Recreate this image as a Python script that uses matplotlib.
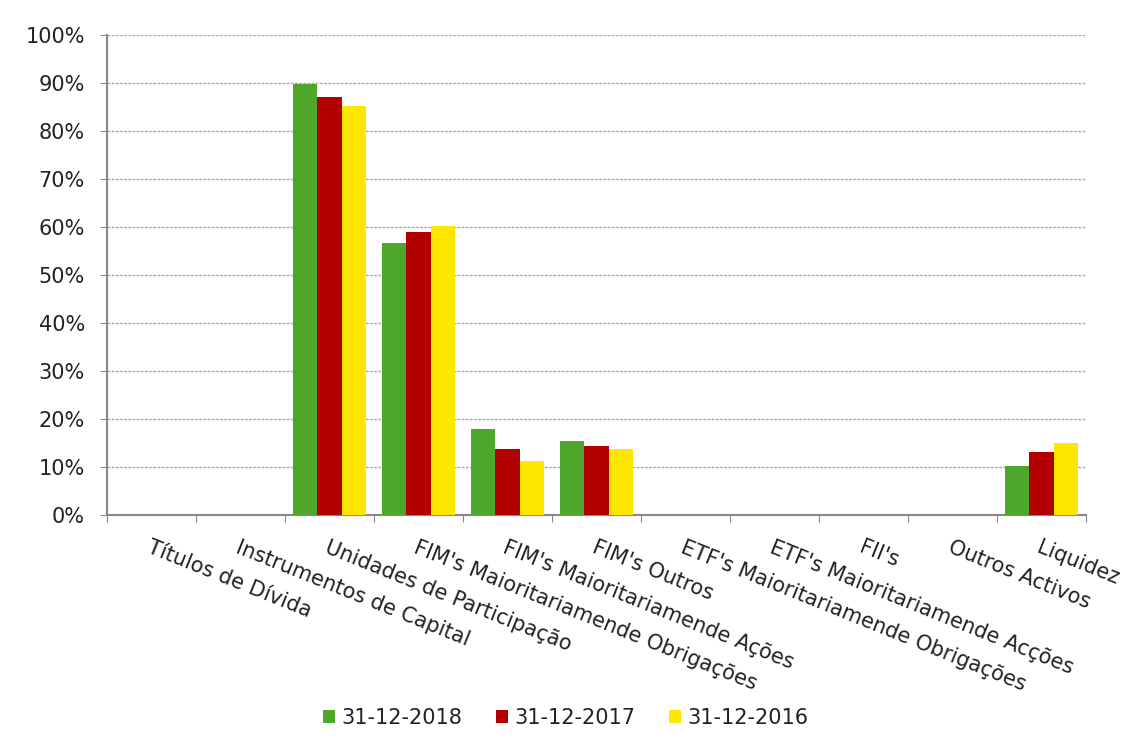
import numpy as np
import matplotlib.pyplot as plt
from matplotlib.ticker import FuncFormatter

categories = [
    "Títulos de Dívida",
    "Instrumentos de Capital",
    "Unidades de Participação",
    "FIM's Maioritariamende Obrigações",
    "FIM's Maioritariamende Ações",
    "FIM's Outros",
    "ETF's Maioritariamende Obrigações",
    "ETF's Maioritariamende Acções",
    "FII's",
    "Outros Activos",
    "Liquidez",
]
series_labels = ["31-12-2018", "31-12-2017", "31-12-2016"]
vals_2018 = [0, 0, 89.8, 56.6, 17.9, 15.4, 0, 0, 0, 0, 10.3]
vals_2017 = [0, 0, 87.0, 59.0, 13.7, 14.4, 0, 0, 0, 0, 13.1]
vals_2016 = [0, 0, 85.3, 60.2, 11.3, 13.7, 0, 0, 0, 0, 14.9]
colors = ["#4EA72A", "#B20000", "#FFE600"]

fig = plt.figure(figsize=(11.31, 7.42), dpi=100)
ax = fig.add_axes([107 / 1131, 1 - 515 / 742, (1086 - 107) / 1131, (515 - 35) / 742])

x = np.arange(len(categories))
w = 0.27
for i, (vals, lab, c) in enumerate(zip([vals_2018, vals_2017, vals_2016], series_labels, colors)):
    ax.bar(x + (i - 1) * w, vals, w, color=c, label=lab, zorder=3)

ax.set_xlim(-0.5, len(categories) - 0.5)
ax.set_ylim(0, 100)
ax.set_yticks(np.arange(0, 101, 10))
ax.yaxis.set_major_formatter(FuncFormatter(lambda v, p: f"{v:.0f}%"))
ax.yaxis.grid(True, linestyle=(0, (2, 1)), color="#aaaaaa", linewidth=1, zorder=0)

ax.set_xticks(np.arange(-0.5, len(categories), 1))
ax.set_xticklabels([])
ax.set_xticks(x, minor=True)
ax.set_xticklabels(categories, minor=True, rotation=-22, ha="left", va="top",
                   rotation_mode="anchor", fontsize=15, color="#222222")
ax.tick_params(axis="x", which="minor", length=0, pad=16)
ax.tick_params(axis="x", which="major", length=5, color="#888888")
ax.tick_params(axis="y", length=5, pad=11, color="#888888", labelsize=15, labelcolor="#222222")

for s in ["top", "right"]:
    ax.spines[s].set_visible(False)
for s in ["left", "bottom"]:
    ax.spines[s].set_color("#888888")
    ax.spines[s].set_linewidth(1.5)

fig.legend(loc="center", bbox_to_anchor=(0.5, 1 - 718 / 742), ncol=3, frameon=False,
           fontsize=15, handlelength=0.6, handleheight=0.6, handletextpad=0.3,
           columnspacing=1.6, labelcolor="#222222")

fig.savefig("out.png", dpi=100)
